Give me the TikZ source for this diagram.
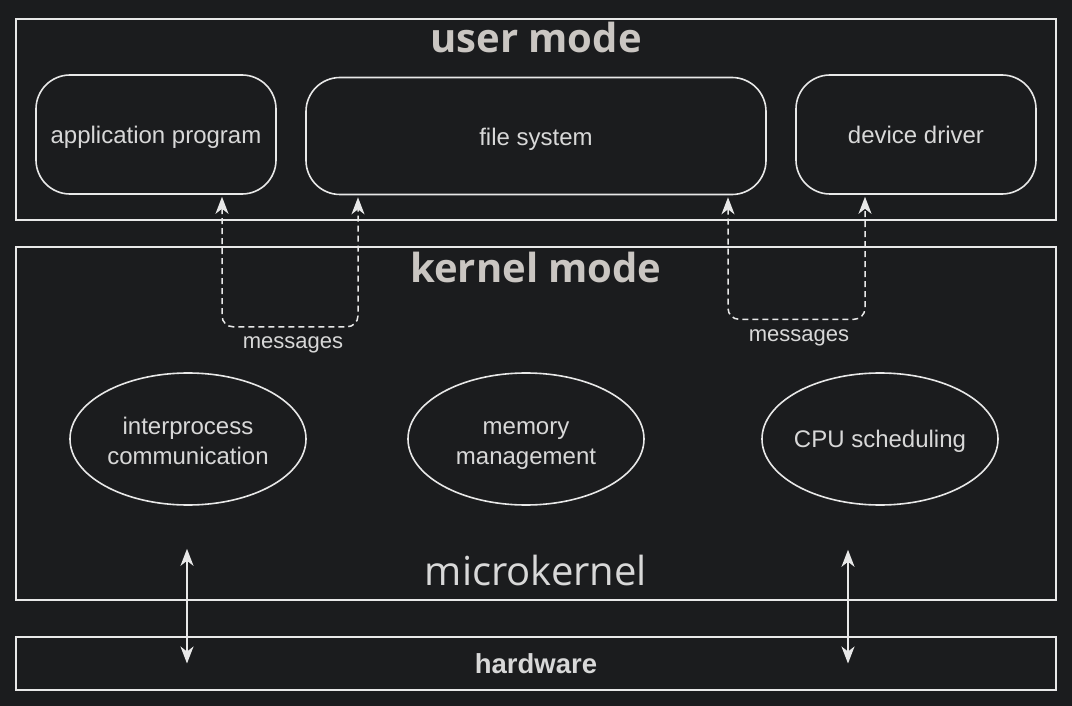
\documentclass[tikz,border=0pt]{standalone}
\usepackage{fontspec}
\setmainfont{Liberation Sans}
\newfontfamily\titlefont{Open Sans}
\usetikzlibrary{positioning, arrows.meta, shapes.geometric}
\definecolor{bgdark}{RGB}{27,28,30}
\definecolor{edge}{RGB}{232,232,232}
\definecolor{label}{RGB}{216,216,216}
\definecolor{heading}{RGB}{202,198,194}
\newcommand{\linestrut}{\rule[-5pt]{0pt}{27pt}}
\newcommand{\tallstrut}{\rule[-5pt]{0pt}{61pt}}

\begin{document}
\begin{tikzpicture}[x=1pt, y=-1pt,
every node/.style={text=label, font=\fontsize{24}{30}\selectfont},
layer/.style={draw=edge, line width=1.8pt, minimum width=1040pt, inner sep=0pt},
server/.style={draw=edge, line width=1.6pt, rounded corners=34pt, minimum height=119pt, inner sep=0pt, align=center,
  execute at begin node=\rule[-5pt]{0pt}{29pt}, execute at end node=\linestrut},
service/.style={ellipse, draw=edge, line width=1.6pt, minimum width=236pt, minimum height=132pt, inner sep=-20pt, align=center,
  execute at begin node=\linestrut, execute at end node=\linestrut},
twoline/.style={execute at begin node=\tallstrut},
heading/.style={text=heading, font=\titlefont\bfseries\fontsize{40}{42}\selectfont},
msgline/.style={draw=edge, line width=1.5pt, dash pattern=on 6pt off 4pt, rounded corners=11pt,
  {Stealth[length=17pt, width=13pt, inset=5pt]}-{Stealth[length=17pt, width=13pt, inset=5pt]}, shorten <=2pt, shorten >=2pt},
syscall/.style={draw=edge, line width=1.5pt,
  {Stealth[length=17pt, width=13pt, inset=5pt]}-{Stealth[length=17pt, width=13pt, inset=5pt]}}]
\fill[bgdark] (0,0) rectangle (1072,706);
\path
(536,119.5) node[layer, minimum height=201pt] (user-box) {}
(536,423.5) node[layer, minimum height=353pt] (kernel-box) {}
(536,663.5) node[layer, minimum height=53pt] (hw-box) {}
(536,38) node[heading] (user-title) {user mode}
(536,267) node[heading] (kernel-title) {kernel mode}
(536,570) node[font=\titlefont\fontsize{40}{42}\selectfont] (ukernel) {microkernel}
(536,664) node[font=\bfseries\fontsize{27.5}{30}\selectfont] (hw) {hardware}
(156,134.5) node[server, minimum width=240pt] (app) {application program}
(536,136) node[server, minimum width=460pt, minimum height=117pt] (fs) {file system}
(916,134.5) node[server, minimum width=240pt] (driver) {device driver}
(188,439) node[service, twoline] (ipc) {interprocess\\communication}
(526,439) node[service, twoline] (mem) {memory\\management}
(880,439) node[service] (cpu) {CPU scheduling}
(293,348) node[anchor=base, font=\fontsize{22}{24}\selectfont] (msg-left) {messages}
(799,341) node[anchor=base, font=\fontsize{22}{24}\selectfont] (msg-right) {messages}
;

\coordinate (ipc-link) at ([xshift=-1pt, yshift=-43pt]ipc.south);
\coordinate (cpu-link) at ([xshift=-32pt, yshift=-44pt]cpu.south);

\draw[msgline] ([xshift=66pt]app.south) -- ++(0,132) -| ([xshift=-178pt]fs.south);
\draw[msgline] ([xshift=192pt]fs.south) -- ++(0,124) -| ([xshift=-51pt]driver.south);

\draw[syscall] (ipc-link) -- (ipc-link |- hw-box.center);
\draw[syscall] (cpu-link) -- (cpu-link |- hw-box.center);

\end{tikzpicture}
\end{document}
